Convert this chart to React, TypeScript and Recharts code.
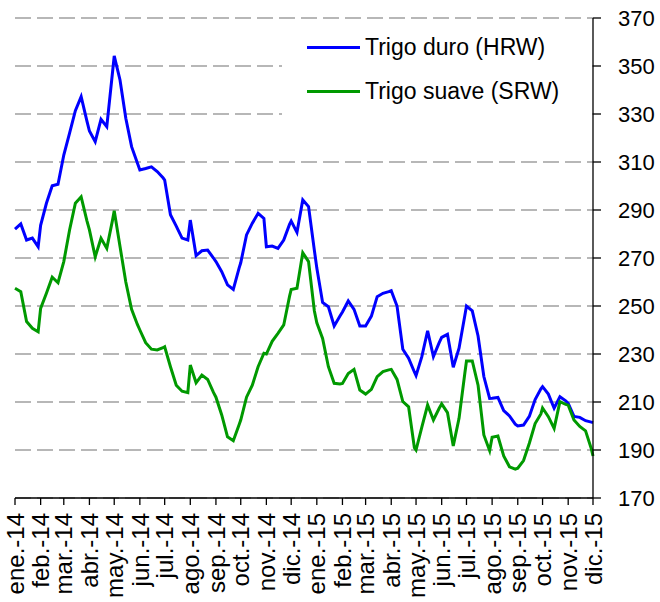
import React from 'react';
import { LineChart, Line, XAxis, YAxis, CartesianGrid, Legend } from 'recharts';

// Month tick labels (one per month start)
const monthLabels = [
  'ene.-14', 'feb.-14', 'mar.-14', 'abr.-14', 'may.-14', 'jun.-14',
  'jul.-14', 'ago.-14', 'sep.-14', 'oct.-14', 'nov.-14', 'dic.-14',
  'ene.-15', 'feb.-15', 'mar.-15', 'abr.-15', 'may.-15', 'jun.-15',
  'jul.-15', 'ago.-15', 'sep.-15', 'oct.-15', 'nov.-15', 'dic.-15',
];

// Day offset (from 1 Jan 2014) of the first day of each month
const monthStartDays = [
  0, 31, 59, 90, 120, 151, 181, 212, 243, 273, 304, 334,
  365, 396, 424, 455, 485, 516, 546, 577, 608, 638, 669, 699,
];

// Quotes are taken on these days of each month
const observationDaysOfMonth = [1, 8, 15, 22, 29];

const yTicks = [170, 190, 210, 230, 250, 270, 290, 310, 330, 350, 370];

// Trigo duro (HRW), USD/t
const hrwValues = [
  282, 284.2, 277.5, 278.3, 274.7,
  283.6, 292.8, 300.1, 300.7,
  312.9, 322, 331.4, 337.2, 327,
  322.9, 318.5, 327.8, 324.7, 347.6,
  354.2, 344.2, 328.2, 316.4, 309.6,
  306.7, 307.3, 308, 306, 303.4,
  302.5, 288, 283.3, 278.3, 277.5,
  285.8, 271, 273, 273.3, 270,
  268.5, 264.3, 258.8, 256.9, 265.8,
  268, 279.6, 284.5, 288.6, 286.5,
  274.7, 275, 274, 277.5, 284,
  285.4, 280.7, 294.2, 291.4, 273.3,
  265.8, 251.5, 249.7, 241.7, 245.8,
  247.5, 252.1, 248.6, 241.7,
  241.7, 245.8, 253.9, 255.3, 256,
  256.4, 250, 232, 228.3, 222.5,
  221, 228.9, 239.7, 228.9, 234.7,
  236.9, 238.2, 224.5, 232.4, 246,
  250, 248, 237.5, 220.6, 211.5,
  211.6, 211.9, 206.4, 204.2, 200.8,
  200, 200.4, 204, 211, 215.5,
  216.4, 213.3, 207.4, 212.2, 210.5,
  209.4, 204, 203.6, 202.2, 201.6,
  201.4,
];

// Trigo suave (SRW), USD/t
const srwValues = [
  257.4, 256, 243.5, 240.7, 239.3,
  249, 255.3, 262, 259.7,
  268.5, 281.7, 292.8, 295.5, 285.5,
  281.7, 270.5, 278.2, 274, 285.9,
  289.7, 274.8, 260, 248.6, 242.3,
  240, 234.7, 232, 231.7, 232.6,
  233, 224.7, 217, 214.5, 213.9,
  225.4, 218, 221.2, 219.4, 214,
  212, 204.6, 195.5, 193.9, 200.5,
  202.5, 212, 217, 224.7, 230.3,
  230, 235.3, 238.6, 242.1, 254,
  256.9, 257.4, 272.2, 268.5, 248,
  243, 236.5, 224.7, 217.8, 217.5,
  217.7, 221.9, 223.6, 215,
  213.3, 215.3, 220.6, 222.7, 223.4,
  223.6, 219.4, 210.2, 208, 191,
  190, 199.5, 208.75, 202.5, 207.4,
  209.2, 205.6, 191.7, 203.2, 222,
  227.1, 227.1, 217, 196.25, 189.7,
  195.3, 195.8, 187.5, 183, 182,
  182.4, 185.6, 192.8, 201, 205,
  207.5, 203.9, 199, 210.1, 209,
  208.7, 202.5, 199.8, 198, 190.5,
  187.5,
];

const hrwName = 'Trigo duro (HRW)';
const srwName = 'Trigo suave (SRW)';
const hrwColor = '#0000ff';
const srwColor = '#009900';

const obsDays: number[] = [];
for (let m = 0; m < monthStartDays.length - 1; m++) {
  const len = monthStartDays[m + 1] - monthStartDays[m];
  for (const d of observationDaysOfMonth) {
    if (d <= len) obsDays.push(monthStartDays[m] + d - 1);
  }
}
obsDays.push(monthStartDays[monthStartDays.length - 1]);

const data = obsDays.map((day, i) => ({ day, hrw: hrwValues[i], srw: srwValues[i] }));

const FONT = '"Liberation Sans", Arial, sans-serif';

const XTick = (props: any) => {
  const { x, y, payload } = props;
  const idx = monthStartDays.indexOf(payload.value);
  return (
    <g transform={`translate(${x},${y})`}>
      <text
        transform="rotate(-90)"
        textAnchor="end"
        dy="0.36em"
        fontSize={24}
        fill="#000"
        fontFamily={FONT}
      >
        {monthLabels[idx]}
      </text>
    </g>
  );
};

const LegendBox = (props: any) => {
  const items =
    props.payload && props.payload.length
      ? props.payload.map((p: any) => ({ name: p.value, color: p.color }))
      : [
          { name: hrwName, color: hrwColor },
          { name: srwName, color: srwColor },
        ];
  return (
    <div
      style={{
        background: '#fff',
        width: 310,
        height: 110,
        paddingTop: 0,
        boxSizing: 'border-box',
        fontFamily: FONT,
        fontSize: 23,
        color: '#000',
      }}
    >
      {items.map((it: any) => (
        <div
          key={it.name}
          style={{ display: 'flex', alignItems: 'center', height: 44.6, whiteSpace: 'nowrap' }}
        >
          <div style={{ width: 53, height: 3, background: it.color, marginLeft: 25, marginRight: 5 }} />
          <span>{it.name}</span>
        </div>
      ))}
    </div>
  );
};

export default function App() {
  return (
    <div style={{ position: 'absolute', left: 0, top: 0, background: '#fff' }}>
      <LineChart
        width={660}
        height={602}
        data={data}
        margin={{ top: 18, right: 0, left: 15, bottom: 0 }}
        style={{ fontFamily: FONT }}
      >
        <CartesianGrid
          horizontal={true}
          vertical={false}
          stroke="#a0a0a0"
          strokeWidth={1.5}
          strokeDasharray="16 6"
        />
        <XAxis
          dataKey="day"
          type="number"
          domain={[0, 699]}
          ticks={monthStartDays}
          interval={0}
          height={104}
          tickSize={7}
          tickMargin={8}
          axisLine={{ stroke: '#000', strokeWidth: 1.3 }}
          tickLine={{ stroke: '#000', strokeWidth: 1.3 }}
          tick={<XTick />}
        />
        <YAxis
          orientation="right"
          domain={[170, 370]}
          ticks={yTicks}
          interval={0}
          width={67}
          tickSize={8}
          tickMargin={17}
          axisLine={{ stroke: '#000', strokeWidth: 1.3 }}
          tickLine={{ stroke: '#000', strokeWidth: 1.3 }}
          tick={{ fontSize: 22, fill: '#000', fontFamily: FONT }}
        />
        <Legend
          layout="vertical"
          align="center"
          verticalAlign="middle"
          content={<LegendBox />}
          wrapperStyle={{ left: 282, top: 25, width: 310, height: 110 }}
        />
        <Line
          type="linear"
          dataKey="hrw"
          name={hrwName}
          stroke={hrwColor}
          strokeWidth={3}
          dot={false}
          isAnimationActive={false}
        />
        <Line
          type="linear"
          dataKey="srw"
          name={srwName}
          stroke={srwColor}
          strokeWidth={3}
          dot={false}
          isAnimationActive={false}
        />
      </LineChart>
    </div>
  );
}
